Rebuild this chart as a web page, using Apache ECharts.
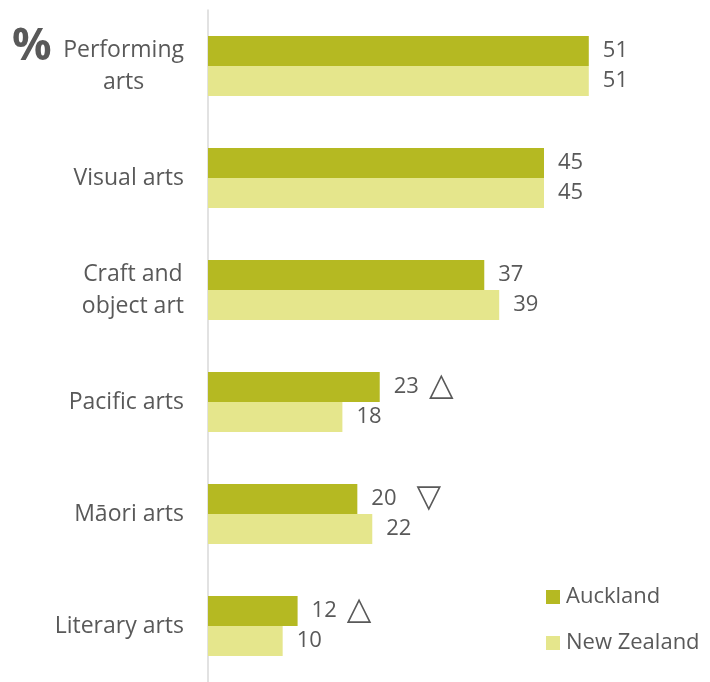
<!DOCTYPE html>
<html>
<head>
<meta charset="utf-8">
<style>
  html, body { margin: 0; padding: 0; background: #fff; }
  #chart { width: 710px; height: 682px; }
</style>
<script src="https://cdn.jsdelivr.net/npm/echarts@6/dist/echarts.min.js"></script>
</head>
<body>
<div id="chart"></div>
<script>
const categories = ['Performing\narts', 'Visual arts', 'Craft and\nobject art', 'Pacific arts', 'Māori arts', 'Literary arts']
const auckland = [51, 45, 37, 23, 20, 12]
const newZealand = [51, 45, 39, 18, 22, 10]
// significance marks vs. national figure
const marks = ['', '', '', 'up', 'down', 'up']

const textColor = '#595959'
const font = '"Open Sans", sans-serif'

const chart = echarts.init(document.getElementById('chart'))
chart.setOption({
  animation: false,
  title: {
    text: '%',
    left: 7,
    top: 20,
    textStyle: { fontSize: 44, fontWeight: 'bold', color: textColor, fontFamily: font }
  },
  legend: {
    orient: 'vertical',
    left: 541,
    top: 581,
    itemWidth: 14,
    itemHeight: 14,
    itemGap: 24,
    icon: 'rect',
    textStyle: { fontSize: 22, color: textColor, fontFamily: font, padding: [0, 0, 0, 1] },
    data: ['Auckland', 'New Zealand']
  },
  grid: { left: 208, right: 54, top: 10, bottom: -4 },
  xAxis: {
    type: 'value',
    min: 0,
    max: 60,
    show: false
  },
  yAxis: {
    type: 'category',
    inverse: true,
    data: categories,
    axisLine: { lineStyle: { color: '#d9d9d9', width: 1.5 } },
    axisTick: { show: false },
    axisLabel: {
      margin: 24,
      align: 'right',
      // centre each line inside the label block
      formatter: v => v.split('\n').map(s => '{c|' + s + '}').join('\n'),
      rich: {
        c: { fontSize: 23, lineHeight: 32, color: textColor, fontFamily: font, align: 'center' }
      }
    }
  },
  series: [
    {
      name: 'Auckland',
      type: 'bar',
      data: auckland,
      barWidth: 30,
      barGap: '0%',
      itemStyle: { color: '#b5b922' },
      label: {
        show: true,
        position: 'right',
        distance: 14,
        fontFamily: font,
        formatter: p => {
          const m = marks[p.dataIndex]
          if (m === 'up') return '{v|' + p.value + '}{up|△}'
          if (m === 'down') return '{v|' + p.value + '}{down|▽}'
          return '{v|' + p.value + '}'
        },
        rich: {
          v: { fontSize: 22, color: textColor, fontFamily: font },
          up: { fontSize: 32, color: textColor, fontFamily: '"DejaVu Sans", sans-serif', padding: [0, 0, 0, 10] },
          down: { fontSize: 32, color: textColor, fontFamily: '"DejaVu Sans", sans-serif', padding: [0, 0, 0, 20] }
        }
      }
    },
    {
      name: 'New Zealand',
      type: 'bar',
      data: newZealand,
      barWidth: 30,
      itemStyle: { color: '#e5e68c' },
      label: {
        show: true,
        position: 'right',
        distance: 14,
        fontSize: 22,
        color: textColor,
        fontFamily: font
      }
    }
  ]
})
</script>
</body>
</html>
